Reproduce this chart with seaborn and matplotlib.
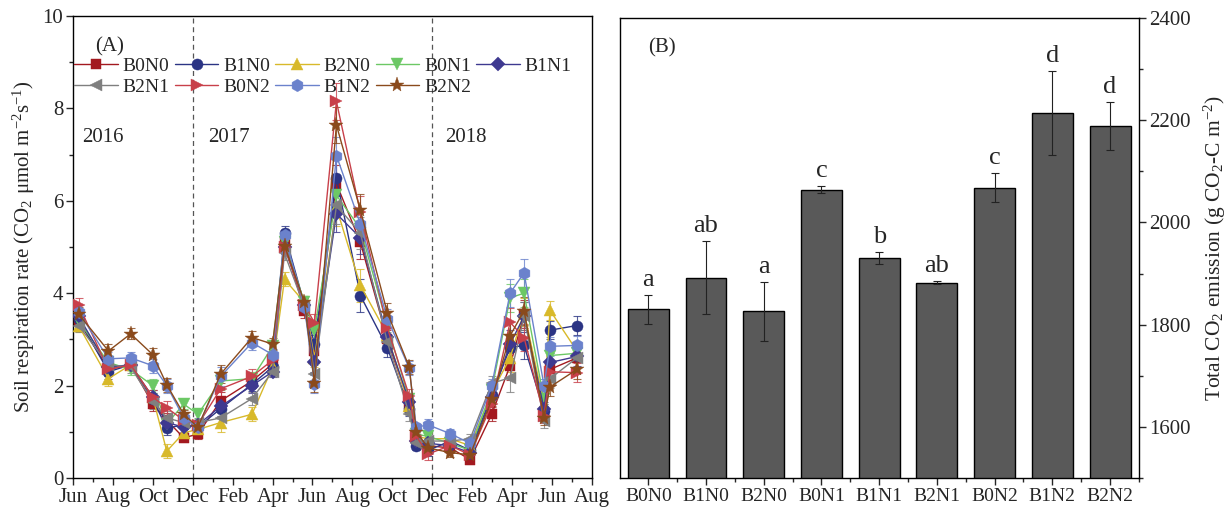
import numpy as np
import pandas as pd
import matplotlib
matplotlib.use("Agg")
import matplotlib.pyplot as plt
import seaborn as sns
from matplotlib.ticker import MultipleLocator, FixedLocator

sns.set_style("white")
plt.rcParams['font.family'] = ['Liberation Serif', 'DejaVu Serif']
plt.rcParams['mathtext.fontset'] = 'custom'
plt.rcParams['mathtext.rm'] = 'Liberation Serif'
plt.rcParams['mathtext.it'] = 'Liberation Serif:italic'

# ---------------- data ----------------
treatments = ["B0N0", "B1N0", "B2N0", "B0N1", "B1N1", "B2N1", "B0N2", "B1N2", "B2N2"]

# sampling dates, months after 1 June 2016
months = [0.28, 1.78, 2.89, 4.0, 4.7, 5.55, 6.26, 7.4, 8.97, 10.0, 10.6, 11.6, 12.1,
          13.2, 14.4, 15.75, 16.85, 17.2, 17.8, 18.9, 19.9, 20.98, 21.9, 22.6, 23.6,
          23.9, 25.25]

B0N0 = [3.40, 2.35, 2.45, 1.60, 1.25, 0.87, 0.95, 1.67, 2.10, 2.47, 5.10, 3.62, 2.75,
        6.37, 5.10, 3.00, 1.60, 0.85, 0.70, 0.65, 0.40, 1.38, 2.43, 3.55, 1.40, 2.35, 2.60]
B1N0 = [3.45, 2.30, 2.45, 1.70, 1.08, 1.15, 1.10, 1.50, 2.03, 2.40, 5.30, 3.75, 2.90,
        6.50, 3.95, 2.82, 1.50, 0.70, 0.60, 0.80, 0.60, 1.80, 2.82, 2.87, 1.45, 3.20, 3.30]
B2N0 = [3.30, 2.15, 2.45, 1.75, 0.58, 0.98, 1.05, 1.20, 1.38, 2.40, 4.30, 3.80, 2.60,
        5.85, 4.17, 3.10, 1.55, 0.90, 0.85, 0.85, 0.70, 1.85, 2.60, 3.60, 1.60, 3.63, 2.75]
B0N1 = [3.40, 2.50, 2.35, 2.00, 1.17, 1.60, 1.38, 2.10, 2.15, 2.85, 5.10, 3.80, 3.20,
        6.12, 5.40, 3.30, 1.70, 0.95, 0.90, 0.75, 0.60, 1.90, 3.90, 4.00, 1.70, 2.65, 2.70]
B1N1 = [3.50, 2.40, 2.45, 1.75, 1.20, 1.10, 1.15, 1.55, 2.00, 2.30, 5.00, 3.75, 2.50,
        5.72, 5.20, 3.05, 1.65, 0.80, 0.75, 0.70, 0.55, 1.75, 2.90, 3.50, 1.50, 2.50, 2.63]
B2N1 = [3.30, 2.45, 2.40, 1.65, 1.30, 1.20, 1.20, 1.30, 1.72, 2.30, 4.86, 3.70, 2.25,
        5.90, 5.30, 2.95, 1.38, 0.75, 0.80, 0.80, 0.85, 2.05, 2.17, 3.50, 1.24, 2.15, 2.60]
B0N2 = [3.75, 2.35, 2.45, 1.75, 1.52, 1.25, 1.15, 1.93, 2.20, 2.55, 5.00, 3.75, 3.36,
        8.15, 5.75, 3.25, 1.78, 0.90, 0.52, 0.70, 0.50, 1.60, 3.37, 3.04, 1.35, 2.30, 2.28]
B1N2 = [3.60, 2.58, 2.60, 2.43, 2.00, 1.30, 1.10, 2.20, 2.93, 2.67, 5.25, 3.70, 2.03,
        6.98, 5.50, 3.45, 2.38, 1.10, 1.15, 0.96, 0.75, 2.00, 4.00, 4.44, 2.00, 2.85, 2.87]
B2N2 = [3.55, 2.75, 3.12, 2.67, 2.02, 1.38, 1.10, 2.25, 3.04, 2.90, 5.03, 3.80, 2.06,
        7.64, 5.80, 3.58, 2.40, 1.00, 0.65, 0.55, 0.50, 1.70, 3.08, 3.62, 1.30, 1.97, 2.35]
rate_se = [0.15, 0.15, 0.12, 0.15, 0.15, 0.10, 0.10, 0.20, 0.15, 0.12, 0.15, 0.15, 0.20,
           0.40, 0.35, 0.20, 0.15, 0.10, 0.12, 0.10, 0.10, 0.15, 0.30, 0.30, 0.15, 0.20, 0.20]

month_labels = ["Jun", "Aug", "Oct", "Dec", "Feb", "Apr", "Jun", "Aug", "Oct", "Dec",
                "Feb", "Apr", "Jun", "Aug"]
year_labels = ["2016", "2017", "2018"]

total_emission = [1830, 1892, 1826, 2064, 1930, 1882, 2068, 2214, 2188]
total_se = [28, 72, 58, 7, 12, 3, 28, 82, 47]
letters = ["a", "ab", "a", "c", "b", "ab", "c", "d", "d"]

# ---------------- styles ----------------
colors = {"B0N0": "#a3191f", "B1N0": "#2b3484", "B2N0": "#d8b92a", "B0N1": "#6cc865",
          "B1N1": "#3e3990", "B2N1": "#7f7f7f", "B0N2": "#c8404a", "B1N2": "#6b82cc",
          "B2N2": "#8a4a1c"}
markers = {"B0N0": "s", "B1N0": "o", "B2N0": "^", "B0N1": "v", "B1N1": "D",
           "B2N1": "<", "B0N2": ">", "B1N2": "h", "B2N2": "*"}
msizes = {"B0N0": 7, "B1N0": 8, "B2N0": 9, "B0N1": 9, "B1N1": 7, "B2N1": 9,
          "B0N2": 9, "B1N2": 9, "B2N2": 11}

series = {"B0N0": B0N0, "B1N0": B1N0, "B2N0": B2N0, "B0N1": B0N1, "B1N1": B1N1,
          "B2N1": B2N1, "B0N2": B0N2, "B1N2": B1N2, "B2N2": B2N2}

rows = []
for t in treatments:
    for m, v, e in zip(months, series[t], rate_se):
        rows.append({"month": m, "rate": v, "se": e, "treatment": t})
df = pd.DataFrame(rows)

fig = plt.figure(figsize=(12.26, 5.09), dpi=100)
axA = fig.add_axes([0.0595, 0.0609, 0.4233, 0.9077])
axB = fig.add_axes([0.5057, 0.0609, 0.4233, 0.9037])

FS = 15

# ---------------- panel A ----------------
for t in treatments:
    sub = df[df.treatment == t]
    axA.errorbar(sub["month"], sub["rate"], yerr=sub["se"], fmt="none",
                 ecolor=colors[t], elinewidth=0.8, capsize=3, capthick=0.8, alpha=0.8, zorder=2)
for t in treatments:
    sub = df[df.treatment == t]
    sns.lineplot(data=sub, x="month", y="rate", ax=axA, color=colors[t],
                 marker=markers[t], markersize=msizes[t], markeredgewidth=0.3,
                 markeredgecolor=colors[t], linewidth=1.0, label=t, sort=False,
                 errorbar=None, zorder=3)

axA.axvline(6, color="#555555", ls=(0, (4, 3)), lw=0.9, zorder=1)
axA.axvline(18, color="#555555", ls=(0, (4, 3)), lw=0.9, zorder=1)

axA.set_xlim(0, 26)
axA.set_ylim(0, 10)
axA.xaxis.set_major_locator(FixedLocator(list(range(0, 27, 2))))
axA.set_xticklabels(month_labels, fontsize=FS)
axA.xaxis.set_minor_locator(MultipleLocator(1))
axA.yaxis.set_major_locator(MultipleLocator(2))
axA.yaxis.set_minor_locator(MultipleLocator(1))
axA.tick_params(axis="both", which="major", direction="out", length=5, width=1,
                labelsize=FS, bottom=True, left=True, pad=2)
axA.tick_params(axis="both", which="minor", direction="out", length=3, width=1,
                bottom=True, left=True)
axA.set_xlabel("")
axA.set_ylabel("Soil respiration rate (CO$_2$ μmol m$^{-2}$s$^{-1}$)", fontsize=FS, labelpad=4)
for s in axA.spines.values():
    s.set_color("black")
    s.set_linewidth(1.0)

h, l = axA.get_legend_handles_labels()
hd = dict(zip(l, h))
# matplotlib fills legend column by column; order so rows read across
order = ["B0N0", "B2N1", "B1N0", "B0N2", "B2N0", "B1N2", "B0N1", "B2N2", "B1N1"]
axA.legend([hd[k] for k in order], order, ncol=5, loc="upper left",
           bbox_to_anchor=(-0.02, 0.935), frameon=False,
           fontsize=14, handlelength=2.25, handletextpad=0.25, columnspacing=0.25,
           labelspacing=0.15, borderaxespad=0.2)

axA.text(0.043, 0.955, "(A)", transform=axA.transAxes, fontsize=FS, va="top", ha="left")
for x, lab in zip([0.45, 6.75, 18.65], year_labels):
    axA.text(x, 7.37, lab, fontsize=FS, va="center", ha="left")

# ---------------- panel B ----------------
dfb = pd.DataFrame({"treatment": treatments, "total": total_emission, "se": total_se})
sns.barplot(data=dfb, x="treatment", y="total", ax=axB, color="#595959",
            edgecolor="black", linewidth=1.0, width=0.71, saturation=1, errorbar=None)
axB.errorbar(np.arange(len(treatments)), dfb["total"], yerr=dfb["se"], fmt="none",
             ecolor="#222222", elinewidth=0.8, capsize=3, capthick=0.8)
for i, (v, e, lt) in enumerate(zip(total_emission, total_se, letters)):
    axB.text(i, v + e + 8, lt, ha="center", va="bottom", fontsize=19)

axB.set_ylim(1500, 2400)
axB.set_xlim(-0.49, 8.5)
axB.yaxis.tick_right()
axB.yaxis.set_label_position("right")
axB.yaxis.set_major_locator(MultipleLocator(200))
axB.yaxis.set_minor_locator(MultipleLocator(100))
axB.xaxis.set_minor_locator(FixedLocator(np.arange(-0.5, 9, 1.0)))
axB.tick_params(axis="y", which="major", direction="out", length=5, width=1,
                labelsize=FS, right=True, left=False, pad=2)
axB.tick_params(axis="x", which="major", direction="out", length=5, width=1,
                labelsize=14, bottom=True, pad=2)
axB.tick_params(axis="both", which="minor", direction="out", length=3, width=1,
                bottom=True, right=True, left=False)
axB.set_xlabel("")
axB.set_ylabel("Total CO$_2$ emission (g CO$_2$-C m$^{-2}$)", fontsize=15.5, labelpad=8)
axB.text(0.055, 0.955, "(B)", transform=axB.transAxes, fontsize=FS, va="top", ha="left")
for s in axB.spines.values():
    s.set_color("black")
    s.set_linewidth(1.0)

fig.savefig("out.png", dpi=100)
